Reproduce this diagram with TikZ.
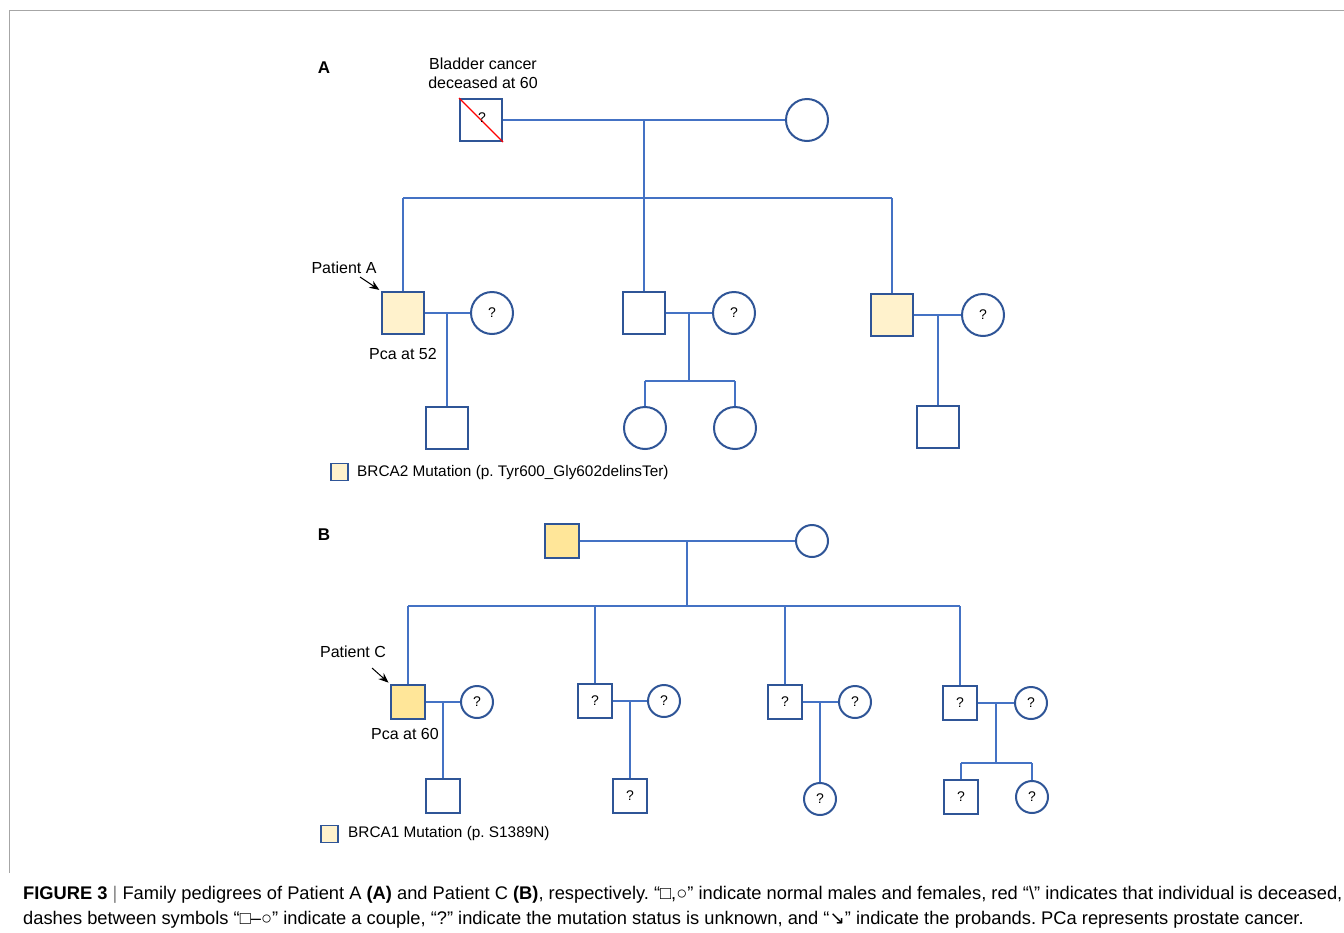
\documentclass[tikz,border=0pt]{standalone}
\usepackage{fontspec}
\setmainfont{Liberation Sans}
\newfontfamily\djv{DejaVu Sans}
\usetikzlibrary{arrows.meta}
\definecolor{lineblue}{HTML}{4472C4}
\definecolor{boxblue}{HTML}{2F5597}
\definecolor{lightyel}{HTML}{FFF2CC}
\definecolor{darkyel}{HTML}{FFE699}
\definecolor{framegray}{HTML}{A6A6A6}
\begin{document}
\frenchspacing
\begin{tikzpicture}[x=1pt,y=-1pt,
  conn/.style={draw=lineblue,line width=2pt},
  sym/.style={draw=boxblue,line width=2pt,inner sep=0pt,fill=white,font=\fontsize{14}{14}\selectfont},
  maleA/.style={sym,rectangle,minimum size=42pt},
  femaleA/.style={sym,circle,minimum size=42pt},
  maleB/.style={sym,rectangle,minimum size=34pt},
  femaleB/.style={sym,circle,minimum size=32pt},
  lbl/.style={font=\fontsize{16}{19}\selectfont,inner sep=0pt,align=center},
  leg/.style={font=\fontsize{15.35}{18}\selectfont,inner sep=0pt,anchor=west},
  legbox/.style={draw=boxblue,line width=1.5pt,minimum size=17pt,inner sep=0pt},
  panel/.style={font=\fontsize{17}{20}\selectfont\bfseries,inner sep=0pt},
  probarrow/.style={draw=black,line width=1pt,shorten >=2pt,-{Stealth[length=10pt,width=8pt]}},
  captext/.style={font=\fontsize{18.3}{20}\selectfont,inner sep=0pt,anchor=base west}
]
\useasboundingbox (0,0) rectangle (1344,932);
\draw[framegray,line width=1.5pt] (1344,10.5) -- (9.5,10.5) -- (9.5,873);

% ---------------- Panel A ----------------
\node[panel] (pA) at (324,68) {A};
\node[lbl] (bc) at (483,73) {Bladder cancer\\deceased at 60};
\node[maleA] (a1) at (481,120) {};
\draw[red,line width=1.1pt] (a1.north west) -- (a1.south east);
\node[inner sep=0pt,font=\fontsize{14}{14}\selectfont] (a1q) at (482,118) {?};
\node[femaleA] (a2) at (807,120) {};
\coordinate (a12) at (644,120);
\coordinate (a12s) at (644,198);
\coordinate (asl) at (403,198);
\coordinate (asr) at (892,198);
\node[maleA,fill=lightyel] (a3) at (403,313) {};
\node[femaleA] (a4) at (492,313) {?};
\node[maleA] (a5) at (644,313) {};
\node[femaleA] (a6) at (734,313) {?};
\node[maleA,fill=lightyel] (a7) at (892,315) {};
\node[femaleA] (a8) at (983,315) {?};
\node[maleA] (a9) at (447,428) {};
\node[femaleA] (a10) at (645,428) {};
\node[femaleA] (a11) at (735,428) {};
\node[maleA] (a12c) at (938,427) {};

\draw[conn] (a1.east) -- (a2.west);
\draw[conn] (a12) -- (a12s);
\draw[conn] (asl) -- (asr);
\draw[conn] (asl) -- (a3.north);
\draw[conn] (a12s) -- (a5.north);
\draw[conn] (asr) -- (a7.north);

\draw[conn] (a3.east) -- (a4.west);
\coordinate (a34) at (447,313);
\draw[conn] (a34) -- (a9.north);

\draw[conn] (a5.east) -- (a6.west);
\coordinate (a56) at (689,313);
\coordinate (a56s) at (689,381);
\coordinate (a56l) at (645,381);
\coordinate (a56r) at (735,381);
\draw[conn] (a56) -- (a56s);
\draw[conn] (a56l) -- (a56r);
\draw[conn] (a56l) -- (a10.north);
\draw[conn] (a56r) -- (a11.north);

\draw[conn] (a7.east) -- (a8.west);
\coordinate (a78) at (938,315);
\draw[conn] (a78) -- (a12c.north);

\node[lbl] (patA) at (344,268) {Patient A};
\coordinate (patAs) at (360,277);
\draw[probarrow] (patAs) -- (a3.north west);
\node[lbl] (pcaA) at (403,354) {Pca at 52};

\node[legbox,fill=lightyel] (legA) at (339.5,472) {};
\node[leg] (legAt) at (357,473) {BRCA2 Mutation (p. Tyr600\_Gly602delinsTer)};

% ---------------- Panel B ----------------
\node[panel] (pB) at (324,535) {B};
\node[maleB,fill=darkyel] (b1) at (562,541) {};
\node[femaleB] (b2) at (812,541) {};
\coordinate (b12) at (687,541);
\coordinate (b12s) at (687,606);
\coordinate (bsl) at (408,606);
\coordinate (bsr) at (960,606);
\draw[conn] (b1.east) -- (b2.west);
\draw[conn] (b12) -- (b12s);
\draw[conn] (bsl) -- (bsr);

\node[maleB,fill=darkyel] (b3) at (408,702) {};
\node[femaleB] (b4) at (477,702) {?};
\node[maleB] (b5) at (595,701) {?};
\node[femaleB] (b6) at (664,701) {?};
\node[maleB] (b7) at (785,702) {?};
\node[femaleB] (b8) at (855,702) {?};
\node[maleB] (b9) at (960,703) {?};
\node[femaleB] (b10) at (1031,703) {?};

\coordinate (bs2) at (595,606);
\coordinate (bs3) at (785,606);
\draw[conn] (bsl) -- (b3.north);
\draw[conn] (bs2) -- (b5.north);
\draw[conn] (bs3) -- (b7.north);
\draw[conn] (bsr) -- (b9.north);

\node[maleB] (b11) at (443,796) {};
\node[maleB] (b12c) at (630,796) {?};
\node[femaleB] (b13) at (820,799) {?};
\node[maleB] (b14) at (961,797) {?};
\node[femaleB] (b15) at (1032,797) {?};

\draw[conn] (b3.east) -- (b4.west);
\coordinate (b34) at (443,702);
\draw[conn] (b34) -- (b11.north);

\draw[conn] (b5.east) -- (b6.west);
\coordinate (b56) at (630,701);
\draw[conn] (b56) -- (b12c.north);

\draw[conn] (b7.east) -- (b8.west);
\coordinate (b78) at (820,702);
\draw[conn] (b78) -- (b13.north);

\draw[conn] (b9.east) -- (b10.west);
\coordinate (b910) at (996,703);
\coordinate (b910s) at (996,763);
\coordinate (b910l) at (961,763);
\coordinate (b910r) at (1032,763);
\draw[conn] (b910) -- (b910s);
\draw[conn] (b910l) -- (b910r);
\draw[conn] (b910l) -- (b14.north);
\draw[conn] (b910r) -- (b15.north);

\node[lbl] (patC) at (353,652) {Patient C};
\coordinate (patCs) at (372,668);
\draw[probarrow] (patCs) -- (b3.north west);
\node[lbl] (pcaC) at (405,734) {Pca at 60};

\node[legbox,fill=lightyel] (legB) at (329.5,834) {};
\node[leg] (legBt) at (348,834) {BRCA1 Mutation (p. S1389N)};

% ---------------- Caption ----------------
\node[captext] (cap1) at (23,899) {\textbf{FIGURE 3} {\color{gray}|} Family pedigrees of Patient A \textbf{(A)} and Patient C \textbf{(B)}, respectively. “□,○” indicate normal males and females, red “\textbackslash” indicates that individual is deceased,};
\node[captext] (cap2) at (23,924) {dashes between symbols “□–○” indicate a couple, “?” indicate the mutation status is unknown, and “{\djv ↘}” indicate the probands. PCa represents prostate cancer.};
\end{tikzpicture}
\end{document}
